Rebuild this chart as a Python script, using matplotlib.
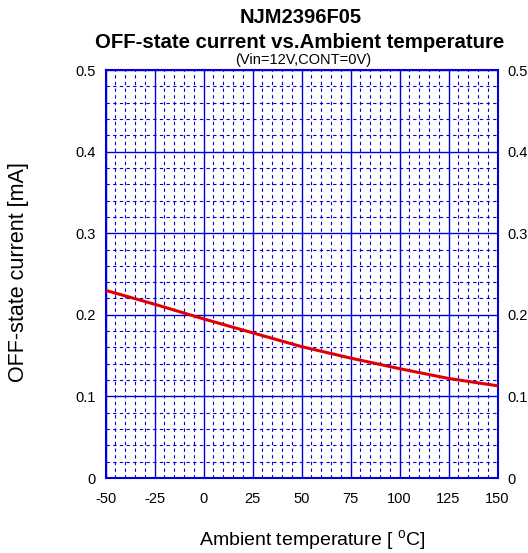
import matplotlib
matplotlib.use("Agg")
import matplotlib.pyplot as plt
from matplotlib.ticker import MultipleLocator

plt.rcParams["font.family"] = ["Liberation Sans", "DejaVu Sans"]

temperature = [-50, -25, 0, 25, 50, 75, 100, 125, 150]
off_current = [0.230, 0.213, 0.195, 0.178, 0.161, 0.147, 0.134, 0.122, 0.113]
x_ticks = [-50, -25, 0, 25, 50, 75, 100, 125, 150]
y_ticks = [0, 0.1, 0.2, 0.3, 0.4, 0.5]
y_tick_labels = ["0", "0.1", "0.2", "0.3", "0.4", "0.5"]

W, H = 528, 553
fig = plt.figure(figsize=(W / 100, H / 100), dpi=100)
ax = fig.add_axes([105.5 / W, 1 - 478 / H, 392 / W, 408 / H])

ax.set_xlim(-50, 150)
ax.set_ylim(0, 0.5)
ax.set_xticks(x_ticks, [str(t) for t in x_ticks])
ax.set_yticks(y_ticks, y_tick_labels)
ax.xaxis.set_minor_locator(MultipleLocator(5))
ax.yaxis.set_minor_locator(MultipleLocator(0.02))
ax.grid(which="major", color="#0000dd", linewidth=1.0, linestyle="-")
ax.grid(which="minor", color="#0000dd", linewidth=0.8, linestyle=(0, (3, 3)))
ax.set_axisbelow(True)
for spine in ax.spines.values():
    spine.set_color("#0000dd")
    spine.set_linewidth(1.5)

ax.plot(temperature, off_current, color="#e00000", linewidth=2.2, zorder=3)

ax.tick_params(which="both", length=0, labelsize=10.5)
ax.tick_params(axis="y", right=True, labelright=True, pad=7)
ax.tick_params(axis="x", pad=10)

fig.text(19 / W, 1 - 272 / H, "OFF-state current [mA]", rotation=90, ha="center", va="center", fontsize=15.5)
fig.text(312 / W, 1 - 541 / H, "Ambient temperature [ $^{\\mathregular{o}}$C]", ha="center", va="center",
         fontsize=14)

fig.text(301 / W, 1 - 17.5 / H, "NJM2396F05", ha="center", va="center", fontsize=14.5, fontweight="bold")
fig.text(300 / W, 1 - 42.5 / H, "OFF-state current vs.Ambient temperature", ha="center", va="center",
         fontsize=14.7, fontweight="bold")
fig.text(303 / W, 1 - 60 / H, "(Vin=12V,CONT=0V)", ha="center", va="center", fontsize=10.5)

fig.savefig("out.png", dpi=100)
